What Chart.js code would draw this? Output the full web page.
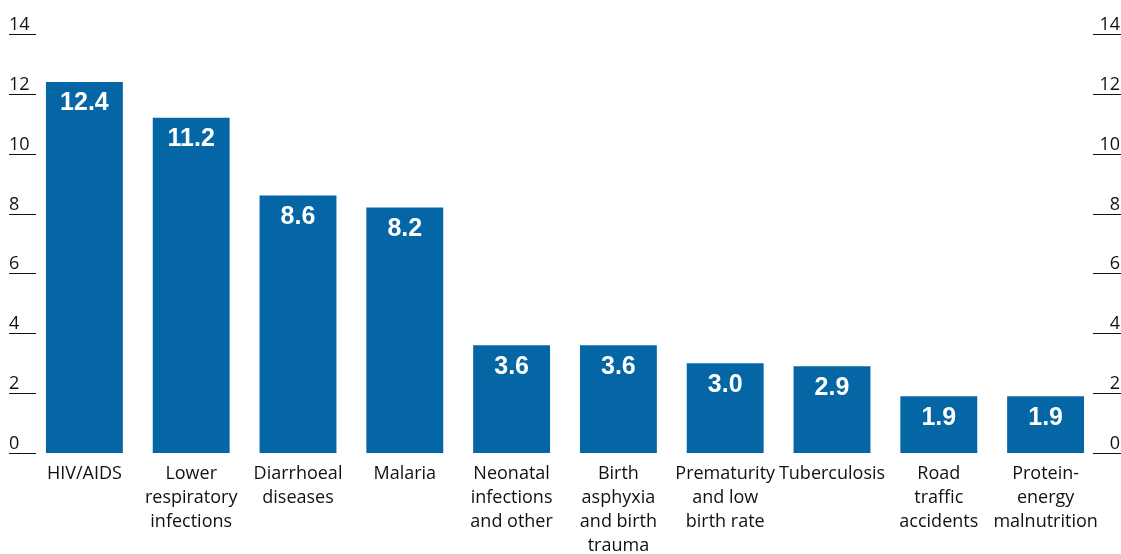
<!DOCTYPE html>
<html>
<head>
<meta charset="utf-8">
<script src="https://cdn.jsdelivr.net/npm/chart.js@4"></script>
<style>
  html,body{margin:0;padding:0;background:#fff}
  #wrap{width:1121px;height:554px;position:relative}
</style>
</head>
<body>
<div id="wrap"><canvas id="chart"></canvas></div>
<script>
const causes = [
  ['HIV/AIDS'],
  ['Lower','respiratory','infections'],
  ['Diarrhoeal','diseases'],
  ['Malaria'],
  ['Neonatal','infections','and other'],
  ['Birth','asphyxia','and birth','trauma'],
  ['Prematurity','and low','birth rate'],
  ['Tuberculosis'],
  ['Road','traffic','accidents'],
  ['Protein-','energy','malnutrition']
]
const values = [12.4, 11.2, 8.6, 8.2, 3.6, 3.6, 3.0, 2.9, 1.9, 1.9]
const yTicks = [0, 2, 4, 6, 8, 10, 12, 14]

const labelFont = '"Open Sans", sans-serif'

// tick labels with short rules on both sides
const sideTicks = {
  id: 'sideTicks',
  afterDraw(chart){
    const ctx = chart.ctx
    const y = chart.scales.y
    ctx.save()
    ctx.strokeStyle = '#111'
    ctx.lineWidth = 1
    ctx.fillStyle = '#111'
    ctx.font = '18px ' + labelFont
    ctx.textBaseline = 'alphabetic'
    yTicks.forEach(t=>{
      const py = Math.round(y.getPixelForValue(t)) + 0.5
      ctx.beginPath()
      ctx.moveTo(9, py); ctx.lineTo(36, py)
      ctx.moveTo(1093, py); ctx.lineTo(1121, py)
      ctx.stroke()
      ctx.textAlign = 'left'
      ctx.fillText(String(t), 9, py - 5)
      ctx.textAlign = 'right'
      ctx.fillText(String(t), 1120, py - 5)
    })
    ctx.restore()
  }
}

// values printed inside the top of each bar
const barValues = {
  id: 'barValues',
  afterDatasetsDraw(chart){
    const ctx = chart.ctx
    const meta = chart.getDatasetMeta(0)
    ctx.save()
    ctx.fillStyle = '#fff'
    ctx.font = 'bold 25px "Liberation Sans", Arial, sans-serif'
    ctx.textAlign = 'center'
    ctx.textBaseline = 'top'
    meta.data.forEach((bar,i)=>{
      ctx.fillText(values[i].toFixed(1), bar.x, bar.y + 9)
    })
    ctx.restore()
  }
}

new Chart('chart', {
  type: 'bar',
  data: {
    labels: causes,
    datasets: [{
      data: values,
      backgroundColor: '#0466a5',
      borderWidth: 0,
      categoryPercentage: 1,
      barPercentage: 0.72
    }]
  },
  options: {
    responsive: true,
    maintainAspectRatio: false,
    animation: false,
    layout: {padding: {left: 31, right: 22, top: 34, bottom: 0}},
    plugins: {
      legend: {display: false},
      tooltip: {enabled: false}
    },
    scales: {
      x: {
        grid: {display: false},
        border: {display: false},
        ticks: {
          color: '#111',
          padding: 1,
          maxRotation: 0,
          autoSkip: false,
          font: {family: labelFont, size: 18, lineHeight: 1.33}
        },
        afterFit(s){ s.height = 101 }
      },
      y: {
        display: false,
        min: 0,
        max: 14
      }
    }
  },
  plugins: [sideTicks, barValues]
})
</script>
</body>
</html>
